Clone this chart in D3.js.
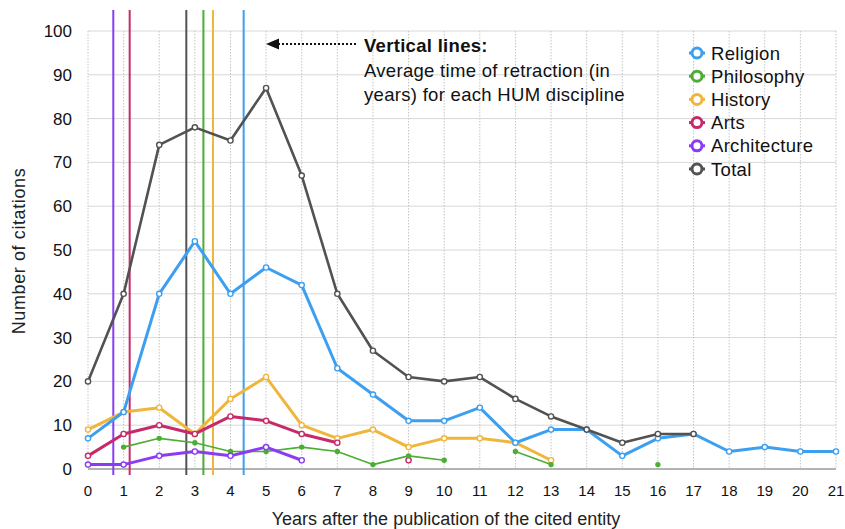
<!DOCTYPE html>
<html>
<head>
<meta charset="utf-8">
<script src="https://cdn.jsdelivr.net/npm/d3@7"></script>
<style>
  body { margin: 0; background: #fff; }
  svg { font-family: "Liberation Sans", Arial, sans-serif; }
</style>
</head>
<body>
<svg width="845" height="529"></svg>
<script>
const years = d3.range(0, 22);
const yTicks = d3.range(0, 101, 10);

// null = no value that year
const religion = [7, 13, 40, 52, 40, 46, 42, 23, 17, 11, 11, 14, 6, 9, 9, 3, 7, 8, 4, 5, 4, 4];
const philosophy = [null, 5, 7, 6, 4, 4, 5, 4, 1, 3, 2, null, 4, 1, null, null, 1, null, null, null, null, null];
const history = [9, 13, 14, 8, 16, 21, 10, 7, 9, 5, 7, 7, 6, 2, null, null, null, null, null, null, null, null];
const arts = [3, 8, 10, 8, 12, 11, 8, 6, null, 2, null, null, null, null, null, null, null, null, null, null, null, null];
const architecture = [1, 1, 3, 4, 3, 5, 2, null, null, null, null, null, null, null, null, null, null, null, null, null, null, null];
const total = [20, 40, 74, 78, 75, 87, 67, 40, 27, 21, 20, 21, 16, 12, 9, 6, 8, 8, null, null, null, null];

const seriesNames = ["Religion", "Philosophy", "History", "Arts", "Architecture", "Total"];
const seriesValues = [religion, philosophy, history, arts, architecture, total];
const seriesColors = ["#3d9ff0", "#4cae34", "#f0b63c", "#c62a69", "#8b3cf2", "#525252"];
const seriesWidths = [3, 1.6, 3, 3, 3, 2.6];

// average time of retraction (years) per discipline
const avgRetraction = [4.37, 3.24, 3.51, 1.17, 0.71, 2.76];

const svg = d3.select("svg");
const margin = { left: 88, right: 9, top: 31, bottom: 60 };
const width = +svg.attr("width");
const height = +svg.attr("height");

const x = d3.scaleLinear().domain([0, 21]).range([margin.left, width - margin.right]);
const y = d3.scaleLinear().domain([0, 100]).range([height - margin.bottom, margin.top]);

// grid
svg.append("g")
  .selectAll("line")
  .data(yTicks.slice(1))
  .join("line")
  .attr("x1", x(0)).attr("x2", x(21))
  .attr("y1", d => y(d)).attr("y2", d => y(d))
  .attr("stroke", "#d8d8d8").attr("stroke-width", 1);

svg.append("g")
  .selectAll("line")
  .data(years)
  .join("line")
  .attr("x1", d => x(d)).attr("x2", d => x(d))
  .attr("y1", y(100)).attr("y2", y(0))
  .attr("stroke", "#c4c4c4").attr("stroke-width", 1)
  .attr("stroke-dasharray", "1.5,1.5");

// axis line
svg.append("line")
  .attr("x1", x(0)).attr("x2", x(21))
  .attr("y1", y(0)).attr("y2", y(0))
  .attr("stroke", "#9a9a9a").attr("stroke-width", 1.5);

// tick labels
svg.append("g")
  .selectAll("text")
  .data(yTicks)
  .join("text")
  .attr("x", 72)
  .attr("y", d => y(d) + 6)
  .attr("text-anchor", "end")
  .attr("font-size", 17)
  .attr("fill", "#111")
  .text(d => d);

svg.append("g")
  .selectAll("text")
  .data(years)
  .join("text")
  .attr("x", d => x(d))
  .attr("y", 496)
  .attr("text-anchor", "middle")
  .attr("font-size", 15)
  .attr("fill", "#111")
  .text(d => d);

// axis titles
svg.append("text")
  .attr("x", 446).attr("y", 525)
  .attr("text-anchor", "middle")
  .attr("font-size", 18)
  .attr("fill", "#222")
  .text("Years after the publication of the cited entity");

svg.append("text")
  .attr("transform", `translate(25,${y(50) + 1}) rotate(-90)`)
  .attr("text-anchor", "middle")
  .attr("font-size", 18)
  .attr("letter-spacing", 0.6)
  .attr("fill", "#222")
  .text("Number of citations");

// vertical lines: average retraction time
svg.append("g")
  .selectAll("line")
  .data(avgRetraction)
  .join("line")
  .attr("x1", d => x(d)).attr("x2", d => x(d))
  .attr("y1", 10).attr("y2", 475)
  .attr("stroke", (d, i) => seriesColors[i])
  .attr("stroke-width", 2);

// series lines
const line = d3.line()
  .defined(d => d != null)
  .x((d, i) => x(years[i]))
  .y(d => y(d));

const drawOrder = [2, 3, 1, 4, 0, 5];
drawOrder.forEach(k => {
  const vals = seriesValues[k];
  const g = svg.append("g");
  g.append("path")
    .datum(vals)
    .attr("d", line)
    .attr("fill", "none")
    .attr("stroke", seriesColors[k])
    .attr("stroke-width", seriesWidths[k])
    .attr("stroke-linejoin", "round");
  g.selectAll("circle")
    .data(vals.map((v, i) => ({ v, i })).filter(d => d.v != null))
    .join("circle")
    .attr("cx", d => x(years[d.i]))
    .attr("cy", d => y(d.v))
    .attr("r", k === 1 ? 2 : 2.6)
    .attr("fill", k === 1 ? seriesColors[k] : "#fff")
    .attr("stroke", seriesColors[k])
    .attr("stroke-width", 1.4);
});

// legend
const legend = svg.append("g").attr("transform", "translate(697,53)");
seriesNames.forEach((name, i) => {
  const row = legend.append("g").attr("transform", `translate(0,${i * 23.2})`);
  row.append("line")
    .attr("x1", -8).attr("x2", 8)
    .attr("stroke", seriesColors[i]).attr("stroke-width", 3);
  row.append("circle")
    .attr("r", 5)
    .attr("fill", "#fff")
    .attr("stroke", seriesColors[i]).attr("stroke-width", 3);
  row.append("text")
    .attr("x", 14).attr("y", 6.5)
    .attr("font-size", 18.5)
    .attr("letter-spacing", 0.3)
    .attr("fill", "#111")
    .text(name);
});

// annotation
svg.append("line")
  .attr("x1", 356).attr("x2", 278)
  .attr("y1", 44).attr("y2", 44)
  .attr("stroke", "#111").attr("stroke-width", 2)
  .attr("stroke-dasharray", "2,2");
svg.append("path")
  .attr("d", "M266,44 L279,38.5 L279,49.5 Z")
  .attr("fill", "#111");

const note = svg.append("g").attr("font-size", 18.5).attr("letter-spacing", 0.3).attr("fill", "#111");
note.append("text").attr("x", 364).attr("y", 52)
  .attr("font-weight", "bold").text("Vertical lines:");
note.append("text").attr("x", 364).attr("y", 77)
  .text("Average time of retraction (in");
note.append("text").attr("x", 364).attr("y", 101)
  .text("years) for each HUM discipline");
</script>
</body>
</html>
